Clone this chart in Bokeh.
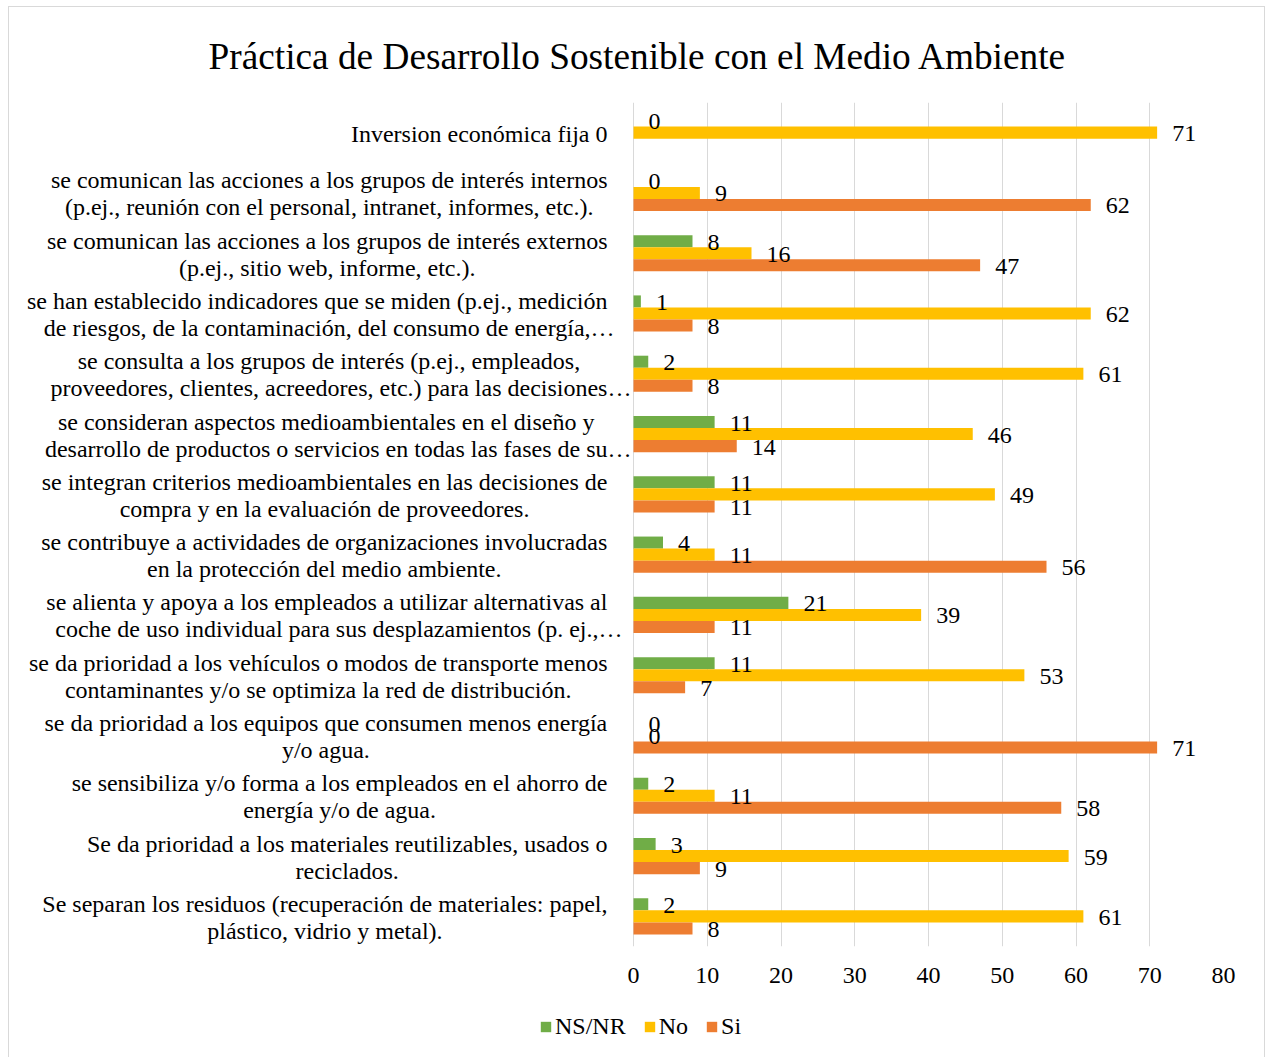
import unicodedata
from bokeh.plotting import figure
from bokeh.layouts import column
from bokeh.models import (ColumnDataSource, FactorRange, Range1d, FixedTicker,
                          Legend, LegendItem)
from bokeh.transform import dodge
from bokeh.core.properties import value
from bokeh.embed import file_html
from bokeh.resources import INLINE

# ---------------- data (top to bottom as in the chart) ----------------
categories = [
    "Inversion económica fija 0",
    "se comunican las acciones a los grupos de interés internos\n(p.ej., reunión con el personal, intranet, informes, etc.).",
    "se comunican las acciones a los grupos de interés externos\n(p.ej., sitio web, informe, etc.).",
    "se han establecido indicadores que se miden (p.ej., medición\nde riesgos, de la contaminación, del consumo de energía,…",
    "se consulta a los grupos de interés (p.ej., empleados,\nproveedores, clientes, acreedores, etc.) para las decisiones…",
    "se consideran aspectos medioambientales en el diseño y\ndesarrollo de productos o servicios en todas las fases de su…",
    "se integran criterios medioambientales en las decisiones de\ncompra y en la evaluación de proveedores.",
    "se contribuye a actividades de organizaciones involucradas\nen la protección del medio ambiente.",
    "se alienta y apoya a los empleados a utilizar alternativas al\ncoche de uso individual para sus desplazamientos (p. ej.,…",
    "se da prioridad a los vehículos o modos de transporte menos\ncontaminantes y/o se optimiza la red de distribución.",
    "se da prioridad a los equipos que consumen menos energía\ny/o agua.",
    "se sensibiliza y/o forma a los empleados en el ahorro de\nenergía y/o de agua.",
    "Se da prioridad a los materiales reutilizables, usados o\nreciclados.",
    "Se separan los residuos (recuperación de materiales: papel,\nplástico, vidrio y metal).",
]
ns_nr = [0, 0, 8, 1, 2, 11, 11, 4, 21, 11, 0, 2, 3, 2]
no = [71, 9, 16, 62, 61, 46, 49, 11, 39, 53, 0, 11, 59, 61]
si = [None, 62, 47, 8, 8, 14, 11, 56, 11, 7, 71, 58, 9, 8]

series_names = ["NS/NR", "No", "Si"]
series_colors = ["#70ad47", "#ffc000", "#ed7d31"]
x_ticks = [0, 10, 20, 30, 40, 50, 60, 70, 80]
title_text = "Práctica de Desarrollo Sostenible con el Medio Ambiente"

# ---------------- styling ----------------
FONT = "Liberation Serif"
FS = 24  # px
keys = [c.replace("\n", " ") for c in categories]

p = figure(
    frame_width=1206, frame_height=844,
    min_border_left=8, min_border_right=41, min_border_top=95, min_border_bottom=60,
    x_range=Range1d(80 - 1206 / 7.375, 80),
    y_range=FactorRange(factors=list(reversed(keys)), range_padding=0),
    output_backend="svg", toolbar_location=None, title=title_text,
)
p.title.align = "left"
p.title.offset = 191
p.title.standoff = 52
p.title.text_font = FONT
p.title.text_font_size = "37.3px"
p.title.text_font_style = "normal"
p.title.text_color = "#000000"

p.outline_line_color = None
p.yaxis.visible = False
p.ygrid.visible = False
p.xgrid.ticker = FixedTicker(ticks=x_ticks)
p.xgrid.grid_line_color = "#d9d9d9"
p.xgrid.grid_line_width = 1
xaxis = p.below[0]
xaxis.ticker = FixedTicker(ticks=x_ticks)
xaxis.axis_line_color = None
xaxis.major_tick_line_color = None
xaxis.minor_tick_line_color = None
xaxis.major_tick_out = 0
xaxis.major_tick_in = 0
xaxis.major_label_text_font = FONT
xaxis.major_label_text_font_size = f"{FS}px"
xaxis.major_label_text_color = "#000000"
xaxis.major_label_standoff = 21

# ---------------- bars, then value labels on top ----------------
offsets = [0.2, 0.0, -0.2]
label_sources = []
for name, vals, col, off in zip(series_names, [ns_nr, no, si], series_colors, offsets):
    cats = [k for k, v in zip(keys, vals) if v is not None]
    vv = [v for v in vals if v is not None]
    src = ColumnDataSource(dict(cat=cats, val=vv, txt=[str(v) for v in vv]))
    p.hbar(y=dodge("cat", off, range=p.y_range), left=0, right="val", height=0.2,
           fill_color=col, line_color=None, source=src)
    label_sources.append((src, off))

for src, off in label_sources:
    p.text(x="val", y=dodge("cat", off, range=p.y_range), text="txt", source=src,
           x_offset=15, y_offset=1, text_align="left", text_baseline="middle",
           text_font=value(FONT), text_font_size=f"{FS}px", text_color="#000000")

# ---------------- category labels (lines centred within a right-aligned block) ----------------
TIMES_W = {' ': 250, '!': 333, '(': 333, ')': 333, ',': 250, '-': 333, '.': 250, '/': 278,
           ':': 278, '…': 1000,
           'A': 722, 'B': 667, 'C': 667, 'D': 722, 'E': 611, 'F': 556, 'G': 722, 'H': 722,
           'I': 333, 'J': 389, 'K': 722, 'L': 611, 'M': 889, 'N': 722, 'O': 722, 'P': 556,
           'Q': 722, 'R': 667, 'S': 556, 'T': 611, 'U': 722, 'V': 722, 'W': 944, 'X': 722,
           'Y': 722, 'Z': 611,
           'a': 444, 'b': 500, 'c': 444, 'd': 500, 'e': 444, 'f': 333, 'g': 500, 'h': 500,
           'i': 278, 'j': 278, 'k': 500, 'l': 278, 'm': 778, 'n': 500, 'o': 500, 'p': 500,
           'q': 500, 'r': 333, 's': 389, 't': 278, 'u': 500, 'v': 500, 'w': 722, 'x': 500,
           'y': 500, 'z': 444}


def text_width(s):
    w = 0
    for ch in s:
        if ch.isdigit():
            w += 500
            continue
        base = unicodedata.normalize("NFD", ch)[0]
        w += TIMES_W.get(ch, TIMES_W.get(base, 500))
    return w * FS / 1000.0


GAP = 26
LINE_H = 27
ELL_W = text_width("…")
lab_cat, lab_txt, lab_xo, lab_yo = [], [], [], []
for key, full in zip(keys, categories):
    lines = full.split("\n")
    core = [l[:-1] if l.endswith("…") else l for l in lines]
    maxw = max(text_width(c) for c in core)
    n = len(lines)
    for j, line in enumerate(lines):
        xo = -(GAP + maxw / 2.0)
        if line.endswith("…"):
            xo += ELL_W / 2.0
        lab_cat.append(key)
        lab_txt.append(line)
        lab_xo.append(xo)
        lab_yo.append((j - (n - 1) / 2.0) * LINE_H + 1)
lab_src = ColumnDataSource(dict(cat=lab_cat, txt=lab_txt, xo=lab_xo, yo=lab_yo, x=[0] * len(lab_cat)))
p.text(x="x", y="cat", text="txt", x_offset="xo", y_offset="yo", source=lab_src,
       text_align="center", text_baseline="middle",
       text_font=value(FONT), text_font_size=f"{FS}px", text_color="#000000")

# ---------------- legend strip under the chart ----------------
leg_fig = figure(frame_width=1255, frame_height=51, min_border=0,
                 x_range=Range1d(0, 1), y_range=Range1d(0, 1),
                 output_backend="svg", toolbar_location=None)
leg_fig.axis.visible = False
leg_fig.grid.visible = False
leg_fig.outline_line_color = None
# legend-only renderers (their single bar lies outside the visible range)
leg_renderers = [leg_fig.hbar(y=[-10], left=[0], right=[1], height=0.2, fill_color=c, line_color=None)
                 for c in series_colors]
legend = Legend(items=[LegendItem(label=n, renderers=[r]) for n, r in zip(series_names, leg_renderers)],
                orientation="horizontal", location=(530, 17))
legend.glyph_width = 13
legend.glyph_height = 13
legend.label_standoff = 3
legend.spacing = 17
legend.label_text_font = FONT
legend.label_text_font_size = f"{FS}px"
legend.label_text_color = "#000000"
legend.border_line_color = None
legend.background_fill_alpha = 0
legend.padding = 0
legend.margin = 0
leg_fig.add_layout(legend, "center")

layout = column(p, leg_fig, spacing=0)
layout.styles = {"border": "1px solid #d9d9d9", "margin-left": "8px", "margin-top": "6px"}

open("out.html", "w").write(file_html(layout, INLINE))
